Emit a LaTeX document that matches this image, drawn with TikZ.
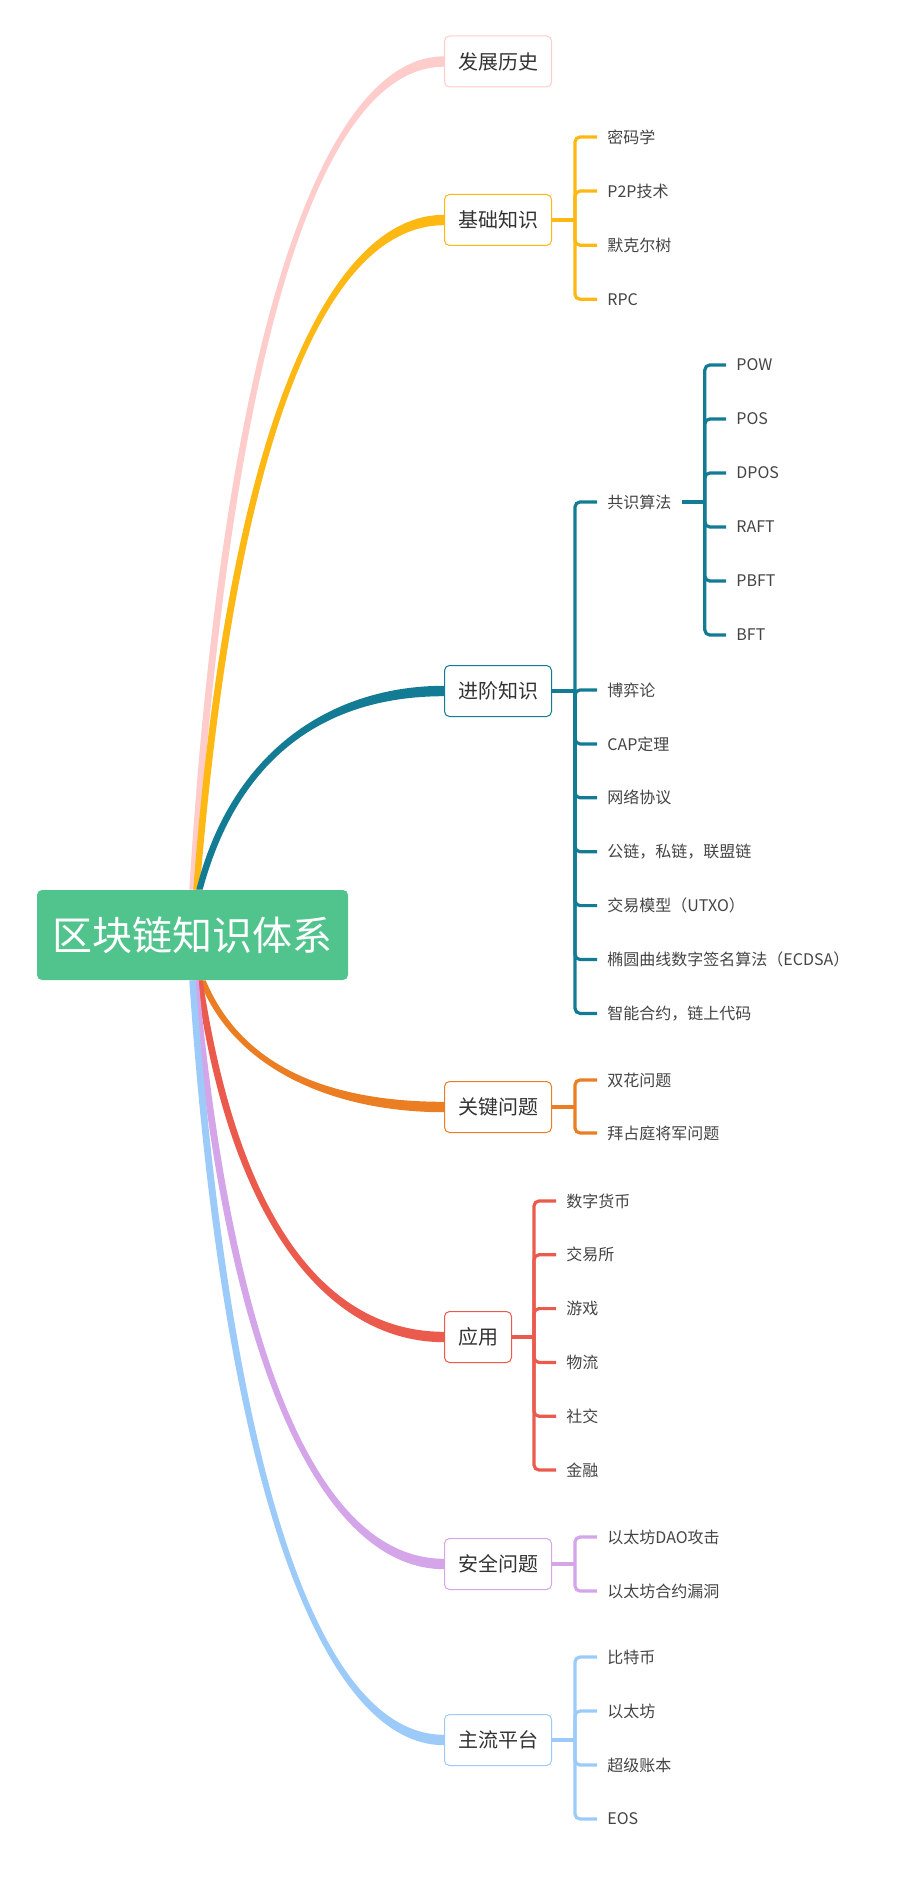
\documentclass[tikz,border=0pt]{standalone}
\usepackage{fontspec}
\setmainfont{Noto Sans CJK SC}
\usetikzlibrary{calc}
\definecolor{rootgreen}{HTML}{50C48C}
\definecolor{cpink}{HTML}{FFCCCC}
\definecolor{cgold}{HTML}{FDB813}
\definecolor{cteal}{HTML}{137C94}
\definecolor{corange}{HTML}{EB7D23}
\definecolor{cred}{HTML}{EA5B4D}
\definecolor{cpurple}{HTML}{D4A5E9}
\definecolor{cblue}{HTML}{9CCBFA}
\definecolor{txt}{HTML}{333333}
\definecolor{leaftxt}{HTML}{444444}
\tikzset{
  rootbox/.style={fill=rootgreen, rounded corners=2.5pt, text=white,
    font=\fontsize{20pt}{24pt}\selectfont, minimum width=155.5pt,
    minimum height=45pt, inner sep=0pt},
  topic/.style={draw=#1, fill=white, line width=0.5pt, rounded corners=2.5pt,
    text=txt, font=\fontsize{10pt}{12pt}\selectfont, minimum height=25.5pt,
    inner xsep=6.75pt, inner ysep=0pt, anchor=west},
  leaf/.style={anchor=west, inner xsep=5pt, inner ysep=1pt, text=leaftxt,
    font=\fontsize{8pt}{10pt}\selectfont},
  twig/.style={draw=#1, line width=1.6pt, rounded corners=2.5pt},
}
\begin{document}
\begin{tikzpicture}[x=0.5pt, y=-0.5pt]
    \useasboundingbox (0,0) rectangle (900,1882);
    \node[rootbox] (root) at (192.5,935) {区块链知识体系};
    % main topics
    \node[topic=cpink] (hist) at (444,61.5) {发展历史};
    \node[topic=cgold] (base) at (444,220) {基础知识};
    \node[topic=cteal] (adv) at (444,691) {进阶知识};
    \node[topic=corange] (key) at (444,1107) {关键问题};
    \node[topic=cred] (app) at (444,1337) {应用};
    \node[topic=cpurple] (sec) at (444,1564) {安全问题};
    \node[topic=cblue] (plat) at (444,1740) {主流平台};
    % tapered curves from the centre box
    \foreach \t/\c/\a/\s/\g in {hist/cpink/north/0/1, base/cgold/north/2/1,
        adv/cteal/north/3.5/1, key/corange/south/5/-1, app/cred/south/3.5/-1,
        sec/cpurple/south/1.5/-1, plat/cblue/south/0/-1}
      \fill[\c] let \p1=([xshift=\s pt]root.\a), \p2=(\t.west) in
        ({\x1-1.6pt},\y1) .. controls ({\x1+0.15*(\x2-\x1)-2.3pt},{\y1+0.71*(\y2-\y1)})
          and ({\x2-0.45*(\x2-\x1)},{\y2+(\g)*2.6pt}) .. ({\x2},{\y2+(\g)*2.6pt})
        -- ({\x2},{\y2-(\g)*2.6pt}) .. controls ({\x2-0.45*(\x2-\x1)},{\y2-(\g)*2.6pt})
          and ({\x1+0.15*(\x2-\x1)+2.3pt},{\y1+0.71*(\y2-\y1)}) .. ({\x1+1.6pt},\y1) -- cycle;
    % leaves
    \foreach \w [count=\i] in {密码学,P2P技术,默克尔树,RPC}
      \node[leaf] (base\i) at (597,{137+54.1*(\i-1)}) {\w};
    \node[leaf] (adv1) at (597,502) {共识算法};
    \foreach \w [count=\i from 2] in {博弈论,CAP定理,网络协议,公链，私链，联盟链,
        交易模型（UTXO）,椭圆曲线数字签名算法（ECDSA）,智能合约，链上代码}
      \node[leaf] (adv\i) at (597,{690+53.9*(\i-2)}) {\w};
    \foreach \w [count=\i] in {POW,POS,DPOS,RAFT,PBFT,BFT}
      \node[leaf] (cons\i) at (726,{365+54*(\i-1)}) {\w};
    \foreach \w [count=\i] in {双花问题,拜占庭将军问题}
      \node[leaf] (key\i) at (597,{1080+53*(\i-1)}) {\w};
    \foreach \w [count=\i] in {数字货币,交易所,游戏,物流,社交,金融}
      \node[leaf] (app\i) at (556,{1201+53.8*(\i-1)}) {\w};
    \foreach \w [count=\i] in {以太坊DAO攻击,以太坊合约漏洞}
      \node[leaf] (sec\i) at (597,{1537+54*(\i-1)}) {\w};
    \foreach \w [count=\i] in {比特币,以太坊,超级账本,EOS}
      \node[leaf] (plat\i) at (597,{1657+54*(\i-1)}) {\w};
    % brackets
    \coordinate (jbase) at ([xshift=11.5pt]base.east);
    \coordinate (jadv) at ([xshift=11.5pt]adv.east);
    \coordinate (jcons) at ([xshift=11.5pt]adv1.east);
    \coordinate (jkey) at ([xshift=11.5pt]key.east);
    \coordinate (japp) at ([xshift=11pt]app.east);
    \coordinate (jsec) at ([xshift=11.5pt]sec.east);
    \coordinate (jplat) at ([xshift=11.5pt]plat.east);
    \draw[twig=cgold] (base.east) -- (jbase);
    \foreach \i in {1,...,4} \draw[twig=cgold] (jbase) |- (base\i.west);
    \draw[twig=cteal] (adv.east) -- (jadv);
    \foreach \i in {1,...,8} \draw[twig=cteal] (jadv) |- (adv\i.west);
    \draw[twig=cteal] (adv1.east) -- (jcons);
    \foreach \i in {1,...,6} \draw[twig=cteal] (jcons) |- (cons\i.west);
    \draw[twig=corange] (key.east) -- (jkey);
    \foreach \i in {1,2} \draw[twig=corange] (jkey) |- (key\i.west);
    \draw[twig=cred] (app.east) -- (japp);
    \foreach \i in {1,...,6} \draw[twig=cred] (japp) |- (app\i.west);
    \draw[twig=cpurple] (sec.east) -- (jsec);
    \foreach \i in {1,2} \draw[twig=cpurple] (jsec) |- (sec\i.west);
    \draw[twig=cblue] (plat.east) -- (jplat);
    \foreach \i in {1,...,4} \draw[twig=cblue] (jplat) |- (plat\i.west);
\end{tikzpicture}
\end{document}
